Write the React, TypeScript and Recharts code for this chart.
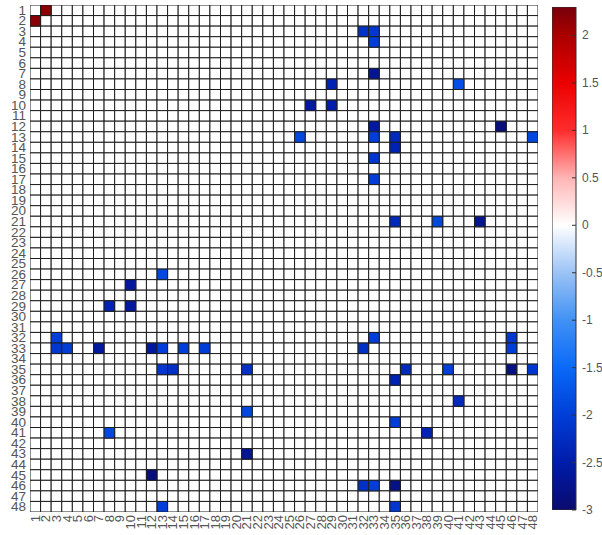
import React from "react";
import { ScatterChart, Scatter, XAxis, YAxis, ComposedChart, Bar } from "recharts";

// Tick labels / categories (rows and columns 1..48)
const tickLabels = [1,2,3,4,5,6,7,8,9,10,11,12,13,14,15,16,17,18,19,20,21,22,23,24,25,26,27,28,29,30,31,32,33,34,35,36,37,38,39,40,41,42,43,44,45,46,47,48];

// Non-zero cells: row index, column index, value
const cellRows = [1, 2, 3, 3, 4, 7, 8, 8, 10, 10, 12, 12, 13, 13, 13, 14, 13, 15, 17, 21, 21, 21, 26, 27, 29, 29, 32, 32, 32, 33, 33, 33, 33, 33, 33, 33, 33, 33, 35, 35, 35, 35, 35, 35, 35, 36, 38, 39, 40, 41, 41, 43, 45, 46, 46, 46, 48, 48];
const cellCols = [2, 1, 32, 33, 33, 33, 29, 41, 27, 29, 33, 45, 26, 33, 35, 35, 48, 33, 33, 35, 39, 43, 13, 10, 8, 10, 3, 33, 46, 3, 4, 7, 12, 13, 15, 17, 32, 46, 13, 14, 21, 36, 40, 46, 48, 35, 41, 21, 35, 8, 38, 21, 12, 32, 33, 35, 13, 35];
const cellValues = [2.2, 2.2, -2.2, -2.1, -2.0, -2.7, -2.4, -1.8, -2.6, -2.5, -2.6, -2.9, -1.9, -2.0, -2.3, -2.4, -1.9, -2.1, -2.0, -2.3, -1.9, -2.7, -1.9, -2.6, -2.4, -2.6, -2.0, -2.0, -2.1, -2.1, -2.0, -2.6, -2.6, -2.0, -2.0, -2.0, -2.2, -2.0, -2.1, -2.2, -2.2, -2.3, -2.0, -2.8, -2.1, -2.4, -2.3, -1.9, -2.0, -1.9, -2.4, -2.7, -2.9, -2.2, -2.0, -2.8, -2.0, -2.1];

// Colorbar
const cbMin = -3;
const cbMax = 2.3;
const cbTicks = [-3, -2.5, -2, -1.5, -1, -0.5, 0, 0.5, 1, 1.5, 2];
const cmapValues = [-3, -2.5, -2, -1.5, -1, -0.5, 0, 0.5, 1, 1.5, 2, 2.3];
const cmapColors: number[][] = [
  [10, 10, 110], [0, 28, 170], [0, 62, 215], [10, 105, 248], [65, 145, 245], [155, 195, 245],
  [255, 255, 255], [255, 180, 180], [255, 45, 45], [235, 0, 0], [170, 0, 0], [120, 0, 10],
];

function colorOf(v: number): string {
  if (v === 0) return "#ffffff";
  const vv = Math.max(cbMin, Math.min(cbMax, v));
  for (let i = 0; i < cmapValues.length - 1; i++) {
    const a = cmapValues[i], b = cmapValues[i + 1];
    if (vv >= a && vv <= b) {
      const t = (vv - a) / (b - a);
      const c = cmapColors[i].map((ch, k) => Math.round(ch + (cmapColors[i + 1][k] - ch) * t));
      return `rgb(${c[0]},${c[1]},${c[2]})`;
    }
  }
  return "#ffffff";
}

// Build table
const valueMap: Record<string, number> = {};
cellRows.forEach((r, i) => { valueMap[`${r}-${cellCols[i]}`] = cellValues[i]; });
const blankCells: { x: number; y: number; v: number }[] = [];
const colored: { x: number; y: number; v: number }[] = [];
tickLabels.forEach((r) => {
  tickLabels.forEach((c) => {
    const v = valueMap[`${r}-${c}`];
    if (v === undefined) blankCells.push({ x: c, y: r, v: 0 });
  });
});
cellRows.forEach((r, i) => colored.push({ x: cellCols[i], y: r, v: cellValues[i] }));

const W = 602, H = 535;
const M = { top: 5, right: 64, bottom: 0, left: 0 };
const Y_W = 30, X_H = 23;
const plotW = W - M.left - M.right - Y_W;
const plotH = H - M.top - M.bottom - X_H;
const cw = plotW / tickLabels.length;
const ch = plotH / tickLabels.length;

const FONT = "Liberation Sans, Arial, sans-serif";

const CellShape = (props: any) => {
  const { cx, cy, payload } = props;
  return (
    <rect x={cx - cw / 2} y={cy - ch / 2} width={cw} height={ch}
      fill={colorOf(payload.v)} stroke="#1e1e1e" strokeWidth={1} />
  );
};

const XTick = (props: any) => {
  const { x, y, payload } = props;
  return (
    <text x={x} y={y} transform={`rotate(-90 ${x} ${y})`} textAnchor="end" dominantBaseline="central"
      fontSize={13} fill="#555" fontFamily={FONT}>{payload.value}</text>
  );
};
const YTick = (props: any) => {
  const { x, y, payload } = props;
  return (
    <text x={x} y={y} textAnchor="end" dominantBaseline="central"
      fontSize={13.5} fill="#555" fontFamily={FONT}>{payload.value}</text>
  );
};
const CbTick = (props: any) => {
  const { x, y, payload } = props;
  return (
    <g>
      <line x1={x - 10} x2={x - 6} y1={y} y2={y} stroke="#333" strokeWidth={1} />
      <text x={x} y={y} textAnchor="start" dominantBaseline="central"
        fontSize={12} fill="#555" fontFamily={FONT}>{payload.value}</text>
    </g>
  );
};

const cbData = [{ name: "cb", range: [cbMin, cbMax] }];
const gradStops = cmapValues
  .map((v, i) => ({ offset: (cbMax - v) / (cbMax - cbMin), c: cmapColors[i] }))
  .reverse();

export default function App() {
  return (
    <div style={{ position: "absolute", left: 0, top: 0, width: W, height: H, background: "#fff" }}>
      <div style={{ position: "absolute", left: 0, top: 0 }}>
        <ScatterChart width={W} height={H} margin={M}>
          <XAxis type="number" dataKey="x" domain={[0.5, 48.5]} ticks={tickLabels} interval={0}
            allowDataOverflow height={X_H} tickSize={0} tickMargin={3} axisLine={false} tickLine={false} tick={<XTick />} />
          <YAxis type="number" dataKey="y" domain={[0.5, 48.5]} ticks={tickLabels} interval={0} reversed
            allowDataOverflow width={Y_W} tickSize={0} tickMargin={4} axisLine={false} tickLine={false} tick={<YTick />} />
          <Scatter data={blankCells} shape={<CellShape />} isAnimationActive={false} />
          <Scatter data={colored} shape={<CellShape />} isAnimationActive={false} />
        </ScatterChart>
      </div>
      <div style={{ position: "absolute", left: 552, top: 0 }}>
        <ComposedChart width={50} height={H} data={cbData} margin={{ top: 7, right: 0, bottom: 25, left: 0 }}
          barCategoryGap={0}>
          <defs>
            <linearGradient id="cbGrad" x1="0" y1="0" x2="0" y2="1">
              {gradStops.map((s, i) => (
                <stop key={i} offset={s.offset} stopColor={`rgb(${s.c[0]},${s.c[1]},${s.c[2]})`} />
              ))}
            </linearGradient>
          </defs>
          <XAxis dataKey="name" hide />
          <YAxis orientation="right" type="number" domain={[cbMin, cbMax]} ticks={cbTicks} interval={0}
            allowDataOverflow width={26} tickSize={4} tickMargin={2} axisLine={false} tickLine={false} tick={<CbTick />} />
          <Bar dataKey="range" fill="url(#cbGrad)" stroke="#333" strokeWidth={1} isAnimationActive={false} />
        </ComposedChart>
      </div>
    </div>
  );
}
